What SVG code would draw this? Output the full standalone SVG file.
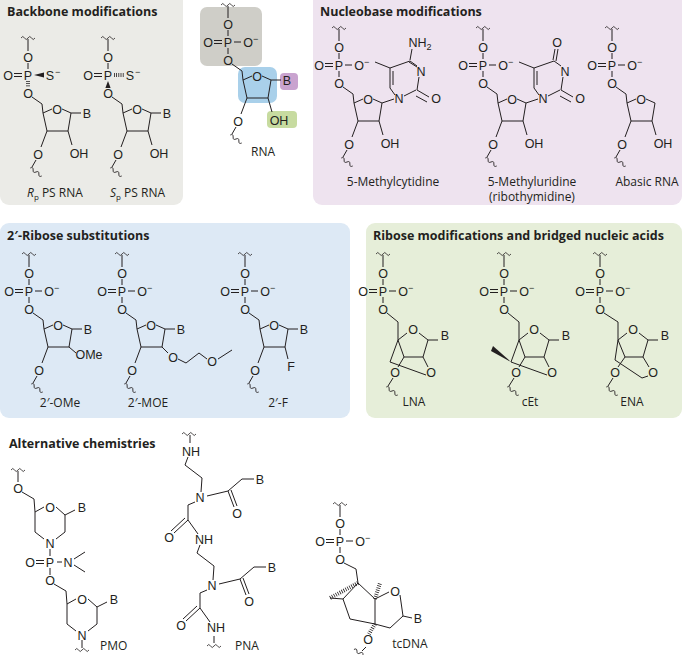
<svg xmlns="http://www.w3.org/2000/svg" xmlns:xlink="http://www.w3.org/1999/xlink" width="682" height="655" viewBox="0 0 682 655">
<style>
.b{stroke:#231f20;stroke-width:1;fill:none}
.w{stroke:#231f20;stroke-width:0.8;fill:none}
.h{stroke:#231f20;stroke-width:4;stroke-dasharray:0.8 1.4;fill:none}
.f{fill:#231f20}
.a{font-family:"Liberation Sans",Arial,sans-serif;font-size:12.5px;text-anchor:middle;fill:#231f20}
.s{font-family:"Liberation Sans",Arial,sans-serif;font-size:9px;fill:#231f20}
.l{font-family:"Open Sans","Noto Sans",sans-serif;font-size:12px;text-anchor:middle;fill:#231f20}
.t{font-family:"Open Sans","Noto Sans",sans-serif;font-size:12.5px;font-weight:bold;fill:#231f20}
</style>
<defs>
<path id="wv" class="w" d="M-7,0 q1.75,-3 3.5,0 q1.75,3 3.5,0 q1.75,-3 3.5,0 q1.75,3 3.5,0"/>
<g id="ph0">
<use xlink:href="#wv" y="-37"/>
<path class="b" d="M0,-36V-24M0,-12V-6M-14,-1.5H-6M-14,1.5H-6"/>
<text class="a" x="0" y="-13.5">O</text>
<text class="a" x="0" y="4.5">P</text>
<text class="a" x="-20" y="4.5">O</text>
<text class="a" x="0" y="22.5">O</text>
</g>
<g id="ph">
<use xlink:href="#ph0"/>
<path class="b" d="M6,0H13M0,6V12"/>
<text class="a" x="20" y="4.5">O</text><text class="s" x="25" y="0">−</text>
</g>
<g id="sug">
<path class="b" d="M4,22L14,29L15,38L24,34M34,34L43,38L40,56L19,56L15,38M19,56L13,72M8,85L4,92"/>
<text class="a" x="29" y="38.5">O</text>
<text class="a" x="10" y="83.5">O</text>
<use xlink:href="#wv" transform="translate(8,97) rotate(35)"/>
</g>
<g id="bb"><path class="b" d="M43,38H53"/><text class="a" x="59" y="42.5">B</text></g>
<g id="oh"><path class="b" d="M40,56L44,70"/><text class="a" x="51" y="83">OH</text></g>
<g id="rna"><use xlink:href="#ph"/><use xlink:href="#sug"/><use xlink:href="#bb"/><use xlink:href="#oh"/></g>
<g id="lna">
<use xlink:href="#ph"/>
<path class="b" d="M4,22L15,31V49L24,42M36,42L45,49L40,66L21,66L15,49M45,49H55M15,49L7,71L43,84M40,66L45,76M21,66L15,76M10,87L5,95"/>
<text class="a" x="30" y="42.5">O</text><text class="a" x="62" y="48.5">B</text>
<text class="a" x="48" y="85.5">O</text><text class="a" x="12" y="85.5">O</text>
<use xlink:href="#wv" transform="translate(9,100) rotate(35)"/>
</g>
<g id="base">
<path class="b" d="M43,38L55,34M65,31L77,25M78,25L90,32M77,31L88,37M78,25L80,12M78,1L71,-4M71,-4L51,3M51,3V23M54,6V20M51,23L56,30M51,3L36,-3"/>
<text class="a" x="60" y="37.5">N</text><text class="a" x="97" y="37.5">O</text><text class="a" x="82" y="10.5">N</text>
</g>
</defs>
<rect x="0" y="-10" width="183" height="215" rx="9" fill="#ebebe7"/>
<rect x="313" y="-10" width="369" height="215" rx="9" fill="#eee3ef"/>
<rect x="0" y="223" width="350" height="195" rx="9" fill="#dde9f5"/>
<rect x="366" y="223" width="316" height="195" rx="9" fill="#e6eed9"/>
<rect x="200" y="7" width="62" height="59" rx="7" fill="#cfcec8"/>
<rect x="238" y="67" width="39" height="36" rx="7" fill="#a9d0ea"/>
<rect x="280" y="73" width="18" height="17" rx="4" fill="#c9a3cf"/>
<rect x="267" y="111" width="30" height="17" rx="4" fill="#c7dba0"/>
<text class="t" x="7" y="16">Backbone modifications</text>
<text class="t" x="320" y="16">Nucleobase modifications</text>
<text class="t" x="7" y="240">2′-Ribose substitutions</text>
<text class="t" x="373" y="240">Ribose modifications and bridged nucleic acids</text>
<text class="t" x="9" y="448">Alternative chemistries</text>
<g id="rp" transform="translate(28,75)">
<use xlink:href="#ph0"/><use xlink:href="#sug"/><use xlink:href="#bb"/><use xlink:href="#oh"/>
<polygon class="f" points="6,0 16,-2.6 16,2.6"/><path class="h" d="M0,6V12"/>
<text class="a" x="22" y="4.5">S</text><text class="s" x="27" y="0">−</text>
</g>
<g id="sp" transform="translate(108,75)">
<use xlink:href="#ph0"/><use xlink:href="#sug"/><use xlink:href="#bb"/><use xlink:href="#oh"/>
<polygon class="f" points="0,6 -2.6,13 2.6,13"/><path class="h" d="M6,0H16"/>
<text class="a" x="22" y="4.5">S</text><text class="s" x="27" y="0">−</text>
</g>
<text class="l" x="27" y="197" style="text-anchor:start"><tspan font-style="italic">R</tspan><tspan font-size="8" dy="3">p</tspan><tspan dy="-3"> PS RNA</tspan></text>
<text class="l" x="110" y="197" style="text-anchor:start"><tspan font-style="italic">S</tspan><tspan font-size="8" dy="3">p</tspan><tspan dy="-3"> PS RNA</tspan></text>
<g id="rnactr" transform="translate(228,42)"><use xlink:href="#rna"/></g>
<text class="l" x="263" y="156">RNA</text>
<g id="mec" transform="translate(339,65)">
<use xlink:href="#ph"/><use xlink:href="#sug"/><use xlink:href="#oh"/><use xlink:href="#base"/>
<path class="b" d="M70,-3L78,2"/><path class="b" d="M71,-5L73,-16"/><text class="a" x="81" y="-18">NH<tspan font-size="9" dy="3">2</tspan></text>
</g>
<g id="meu" transform="translate(483,65)">
<use xlink:href="#ph"/><use xlink:href="#sug"/><use xlink:href="#oh"/><use xlink:href="#base"/>
<path class="b" d="M70,-5L72,-16M73,-4L75,-16"/><text class="a" x="74" y="-18">O</text>
</g>
<text class="l" x="393" y="186">5-Methylcytidine</text>
<text class="l" x="532" y="186">5-Methyluridine<tspan x="532" dy="15">(ribothymidine)</tspan></text>
<g id="abasic" transform="translate(612,65)">
<use xlink:href="#ph"/><use xlink:href="#sug"/><use xlink:href="#oh"/>
</g>
<text class="l" x="647" y="186">Abasic RNA</text>
<g id="ome" transform="translate(29,291)">
<use xlink:href="#ph"/><use xlink:href="#sug"/><use xlink:href="#bb"/>
<path class="b" d="M40,56L47,62"/><text class="a" x="60" y="68">OMe</text>
</g>
<g id="moe" transform="translate(122,291)">
<use xlink:href="#ph"/><use xlink:href="#sug"/><use xlink:href="#bb"/>
<path class="b" d="M40,56L46,62M56,68L64,72L77,62L85,68M96,68L110,59"/>
<text class="a" x="51" y="70.5">O</text><text class="a" x="90" y="74.5">O</text>
</g>
<g id="fl" transform="translate(245,291)">
<use xlink:href="#ph"/><use xlink:href="#sug"/><use xlink:href="#bb"/>
<path class="b" d="M40,56L43,68"/><text class="a" x="46" y="80">F</text>
</g>
<text class="l" x="60" y="407">2′-OMe</text>
<text class="l" x="148" y="407">2′-MOE</text>
<text class="l" x="278" y="407">2′-F</text>
<g id="lnag" transform="translate(383,291)"><use xlink:href="#lna"/></g>
<g id="cet" transform="translate(504,291)"><use xlink:href="#lna"/><polygon class="f" points="7,71 -11,55 -13,60"/></g>
<g id="ena" transform="translate(600,291)">
<use xlink:href="#ph"/>
<path class="b" d="M4,22L18,31V49L27,42M39,42L48,49L43,66L25,66L18,49M48,49H58M18,49L15,69L42,87L48,85M43,66L49,76M25,66L18,76M13,87L8,95"/>
<text class="a" x="33" y="42.5">O</text><text class="a" x="65" y="48.5">B</text>
<text class="a" x="53" y="85.5">O</text><text class="a" x="15" y="85.5">O</text>
<use xlink:href="#wv" transform="translate(12,100) rotate(35)"/>
</g>
<text class="l" x="414" y="406">LNA</text>
<text class="l" x="530" y="406">cEt</text>
<text class="l" x="632" y="406">ENA</text>
<g id="pmo">
<use xlink:href="#wv" x="18" y="470"/>
<path class="b" d="M18,471V482"/>
<text class="a" x="18" y="492.5">O</text>
<g id="pmou">
<path class="b" d="M22,492L34,499L35,512L44,507M56,507L65,515L75,510M65,515V532L56,539M44,539L35,532V512"/>
<text class="a" x="50" y="511.5">O</text><text class="a" x="82" y="512">B</text><text class="a" x="50" y="547.5">N</text>
</g>
<path class="b" d="M50,549V556M57,562H62M36,560.5H44M36,563.5H44M50,568V575M74,559L85,552M74,565L85,572"/>
<text class="a" x="50" y="566.5">P</text><text class="a" x="30" y="566.5">O</text><text class="a" x="68" y="566.5">N</text>
<text class="a" x="50" y="584.5">O</text>
<use xlink:href="#pmou" transform="translate(32,92)"/>
<path class="b" d="M82,640V648"/><use xlink:href="#wv" x="82" y="650"/>
<text class="l" x="100" y="650" style="text-anchor:start">PMO</text>
</g>
<g id="pna">
<use xlink:href="#wv" x="189" y="434"/><path class="b" d="M190,435V443"/>
<text class="a" x="191" y="456">NH</text>
<g id="pnau" transform="translate(200,497)">
<path class="b" d="M1,-5L2,-19L-15,-32L-12,-40M7,-1L28,-6L42,-18H54M28,-6L34,10M31,-7L37,9M-5,5L-12,8V23L-26,36M-15,21L-29,34M-12,23L-2,37"/>
<text class="a" x="0" y="4.5">N</text>
<text class="a" x="60" y="-13.5">B</text><text class="a" x="37" y="20.5">O</text>
<text class="a" x="-31" y="45">O</text><text class="a" x="4" y="47">NH</text>
</g>
<use xlink:href="#pnau" transform="translate(12,88)"/>
<path class="b" d="M214,636V643"/><use xlink:href="#wv" x="214" y="646"/>
<text class="l" x="235" y="650" style="text-anchor:start">PNA</text>
</g>
<g id="tc" transform="translate(340,541)">
<use xlink:href="#ph"/>
<path class="b" d="M4,22L16,28L18,42L35,58V83L10,78L3,58L18,42M3,58L-10,57M35,58L49,51M60,54L63,75L50,87L35,83M63,75L72,77"/>
<path class="h" d="M18,42L-10,57M35,58L40,42M35,83L29,93"/>
<text class="a" x="55" y="54.5">O</text><text class="a" x="78" y="81.5">B</text>
<text class="a" x="28" y="102.5">O</text>
<path class="b" d="M26,106L22,110"/><use xlink:href="#wv" transform="translate(20,112) rotate(30)"/>
</g>
<text class="l" x="410" y="648">tcDNA</text>
</svg>
